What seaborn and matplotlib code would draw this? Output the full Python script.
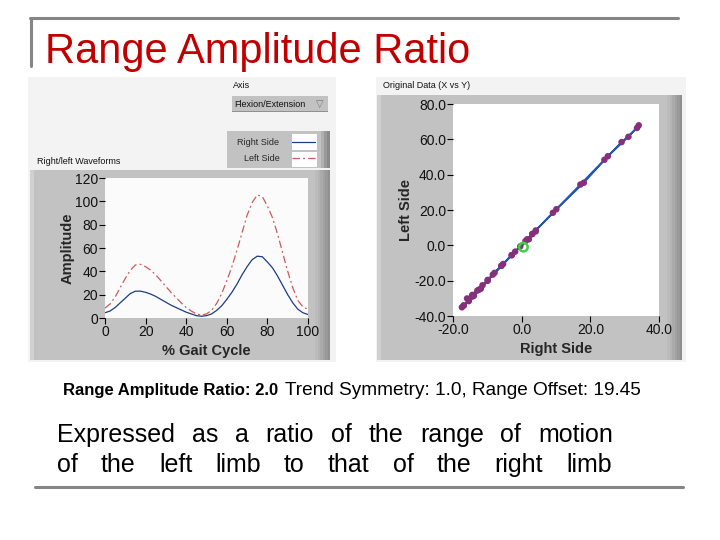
import numpy as np
import pandas as pd
import seaborn as sns
import matplotlib.pyplot as plt
from matplotlib.patches import Rectangle
from matplotlib.lines import Line2D

# waveform data (% gait cycle vs amplitude)
gait_cycle = [0, 2.5, 5, 7.5, 10, 12.5, 15, 17.5, 20, 22.5, 25, 27.5, 30, 32.5, 35, 37.5,
              40, 42.5, 45, 47.5, 50, 52.5, 55, 57.5, 60, 62.5, 65, 67.5, 70, 72.5, 75,
              77.5, 80, 82.5, 85, 87.5, 90, 92.5, 95, 97.5, 100]
right_side = [4.5, 6, 9, 13, 17, 21, 23, 23, 22, 20.5, 18.5, 16, 13.5, 11, 9, 7,
              5, 3.5, 2, 1.5, 2, 3.5, 6.5, 10.5, 16, 22, 29, 37, 44, 50, 53,
              52.5, 48, 43, 36, 28, 20, 13, 7.5, 4.5, 3]
left_side = [8.5, 12, 18, 26, 34, 41, 45.5, 46, 44, 41, 37, 32, 27, 22, 17.5, 13,
             9, 6, 3.5, 2.5, 3.5, 6.5, 12.5, 21, 32, 44, 58, 73, 88, 99, 105.5,
             104, 96, 86, 72, 56, 40, 26, 15, 9.5, 7.5]
cursor_point = (0.5, -1.0)

amp_ticks = [0, 20, 40, 60, 80, 100, 120]
gait_ticks = [0, 20, 40, 60, 80, 100]
xy_xticks = [-20, 0, 20, 40]
xy_yticks = [-40, -20, 0, 20, 40, 60, 80]

title = "Range Amplitude Ratio"
stats_bold = "Range Amplitude Ratio: 2.0"
stats_rest = "Trend Symmetry: 1.0, Range Offset: 19.45"
caption = ["Expressed as a ratio of the range of motion",
           "of the left limb to that of the right limb"]

sns.set_theme(style="white")
plt.rcParams['font.family'] = ['Liberation Sans', 'DejaVu Sans']

W, H = 720, 540
fig = plt.figure(figsize=(7.2, 5.4), dpi=100)
fig.patch.set_facecolor("white")


def fx(x):
    return x / W


def fy(y):
    return 1 - y / H


def rect(x0, y0, x1, y1, color, z=-5):
    fig.add_artist(Rectangle((fx(x0), fy(y1)), (x1 - x0) / W, (y1 - y0) / H,
                             transform=fig.transFigure, facecolor=color,
                             edgecolor="none", zorder=z))


def panel(x0, y0, x1, y1):
    rect(x0, y0, x1, y1, "#c2c2c2")
    rect(x0, y0, x0 + 4, y1, "#d0d0d0", -4)
    shades = ["#bcbcbc", "#b4b4b4", "#ababab", "#a2a2a2", "#999999", "#909090"]
    for i, c in enumerate(shades):
        rect(x1 - 15 + i * 2.5, y0, x1, y1, c, -4 + i * 0.1)


def hline(x0, x1, y, color="#858585", lw=2.2):
    fig.add_artist(Line2D([fx(x0), fx(x1)], [fy(y), fy(y)], transform=fig.transFigure,
                          color=color, lw=lw))


# slide frame lines and title
hline(30, 678, 18)
fig.add_artist(Line2D([fx(31), fx(31)], [fy(18), fy(66)], transform=fig.transFigure,
                      color="#858585", lw=2.2))
hline(35, 683, 487)
fig.text(fx(45), fy(63), title, fontsize=30, color="#c00000", va="baseline")

# screenshot backgrounds
rect(28, 77, 336, 362, "#f3f3f3", -6)
rect(376, 77, 686, 362, "#f3f3f3", -6)

small = dict(fontsize=6.5, color="#111111")

# ---- left screenshot: waveforms ----
fig.text(fx(233), fy(85), "Axis", va="center", **small)
rect(232, 96, 328, 112, "#c2c2c2")
rect(232, 111, 328, 112, "#909090", -4)
fig.text(fx(234), fy(104), "Flexion/Extension", va="center", **small)
fig.text(fx(316), fy(104), "\u25bd", va="center", fontsize=7, color="#777777",
         family=["DejaVu Sans"])

rect(227, 131, 330, 168, "#c2c2c2")
for i, c in enumerate(["#b0b0b0", "#9a9a9a", "#8a8a8a"]):
    rect(321 + i * 3, 131, 330, 168, c, -4 + i * 0.1)
rect(292, 134, 317, 150, "white", -3)
rect(292, 152, 317, 167, "white", -3)

fig.text(fx(37), fy(162), "Right/left Waveforms", va="center", **small)
panel(30, 170, 330, 360)

wave = pd.DataFrame({
    "cycle": gait_cycle * 2,
    "amplitude": right_side + left_side,
    "side": ["Right Side"] * len(gait_cycle) + ["Left Side"] * len(gait_cycle),
})

ax1 = fig.add_axes([fx(105), fy(318), (308 - 105) / W, (318 - 178) / H])
sns.lineplot(data=wave, x="cycle", y="amplitude", hue="side", style="side",
             palette={"Right Side": "#1c3c84", "Left Side": "#cc5a5a"},
             dashes={"Right Side": "", "Left Side": (6, 2.5, 1.5, 2.5)},
             lw=0.9, ax=ax1)
ax1.set_xlim(0, 100)
ax1.set_ylim(0, 120)
ax1.set_xticks(gait_ticks)
ax1.set_yticks(amp_ticks)
ax1.set_facecolor("#fbfbfb")
for s in ax1.spines.values():
    s.set_visible(False)
ax1.tick_params(direction="out", length=4, width=0.8, color="black", pad=1,
                labelsize=10, labelcolor="#111111", bottom=True, left=True)
ax1.set_xlabel("% Gait Cycle", fontsize=10.5, fontweight="bold", labelpad=4)
ax1.set_ylabel("Amplitude", fontsize=10.5, fontweight="bold", labelpad=0)
sns.move_legend(ax1, "upper left", bbox_to_anchor=(fx(231), fy(132)),
                bbox_transform=fig.transFigure, title=None, frameon=False,
                markerfirst=False, fontsize=6.5, handlelength=2.6,
                handletextpad=1.4, labelspacing=0.75, borderpad=0.2)

# ---- right screenshot: X vs Y ----
fig.text(fx(383), fy(86), "Original Data (X vs Y)", va="center", **small)
panel(377, 95, 682, 360)

right_arr = np.array(right_side)
left_arr = np.array(left_side)
xy = pd.DataFrame({"right": right_arr - right_arr.mean(),
                   "left": left_arr - left_arr.mean()})

ax2 = fig.add_axes([fx(453), fy(316), (659 - 453) / W, (316 - 104) / H])
sns.lineplot(data=xy, x="right", y="left", sort=False, color="#2255b5", lw=1.3, ax=ax2)
sns.scatterplot(data=xy, x="right", y="left", color="#86307c", s=22, edgecolor="none",
                ax=ax2, zorder=3)
ax2.scatter([cursor_point[0]], [cursor_point[1]], s=38, facecolors="none",
            edgecolors="#40d040", linewidths=1.8, zorder=4)
ax2.set_xlim(-20, 40)
ax2.set_ylim(-40, 80)
ax2.set_xticks(xy_xticks)
ax2.set_yticks(xy_yticks)
ax2.xaxis.set_major_formatter(plt.FormatStrFormatter("%.1f"))
ax2.yaxis.set_major_formatter(plt.FormatStrFormatter("%.1f"))
ax2.set_facecolor("white")
for s in ax2.spines.values():
    s.set_visible(False)
ax2.tick_params(direction="out", length=4, width=0.8, color="black", pad=1,
                labelsize=10, labelcolor="#111111", bottom=True, left=True)
ax2.set_xlabel("Right Side", fontsize=10.5, fontweight="bold", labelpad=4)
ax2.set_ylabel("Left Side", fontsize=10.5, fontweight="bold", labelpad=1)

# ---- text below ----
renderer = fig.canvas.get_renderer()
t1 = fig.text(fx(63), fy(395), stats_bold, fontsize=12, fontweight="bold",
              va="baseline", color="black")
w1 = t1.get_window_extent(renderer).width
fig.text(fx(63 + w1 + 7), fy(395), stats_rest, fontsize=13.7, va="baseline",
         color="black")


def justified(line, x0, x1, y, size):
    words = line.split()
    texts = [fig.text(0, fy(y), w, fontsize=size, va="baseline", color="black")
             for w in words]
    widths = [t.get_window_extent(renderer).width for t in texts]
    gap = ((x1 - x0) - sum(widths)) / (len(words) - 1)
    x = x0
    for t, w in zip(texts, widths):
        t.set_x(fx(x))
        x += w + gap


justified(caption[0], 57, 613, 442, 18)
justified(caption[1], 57, 612, 472, 18)

fig.savefig("out.png", dpi=100)
